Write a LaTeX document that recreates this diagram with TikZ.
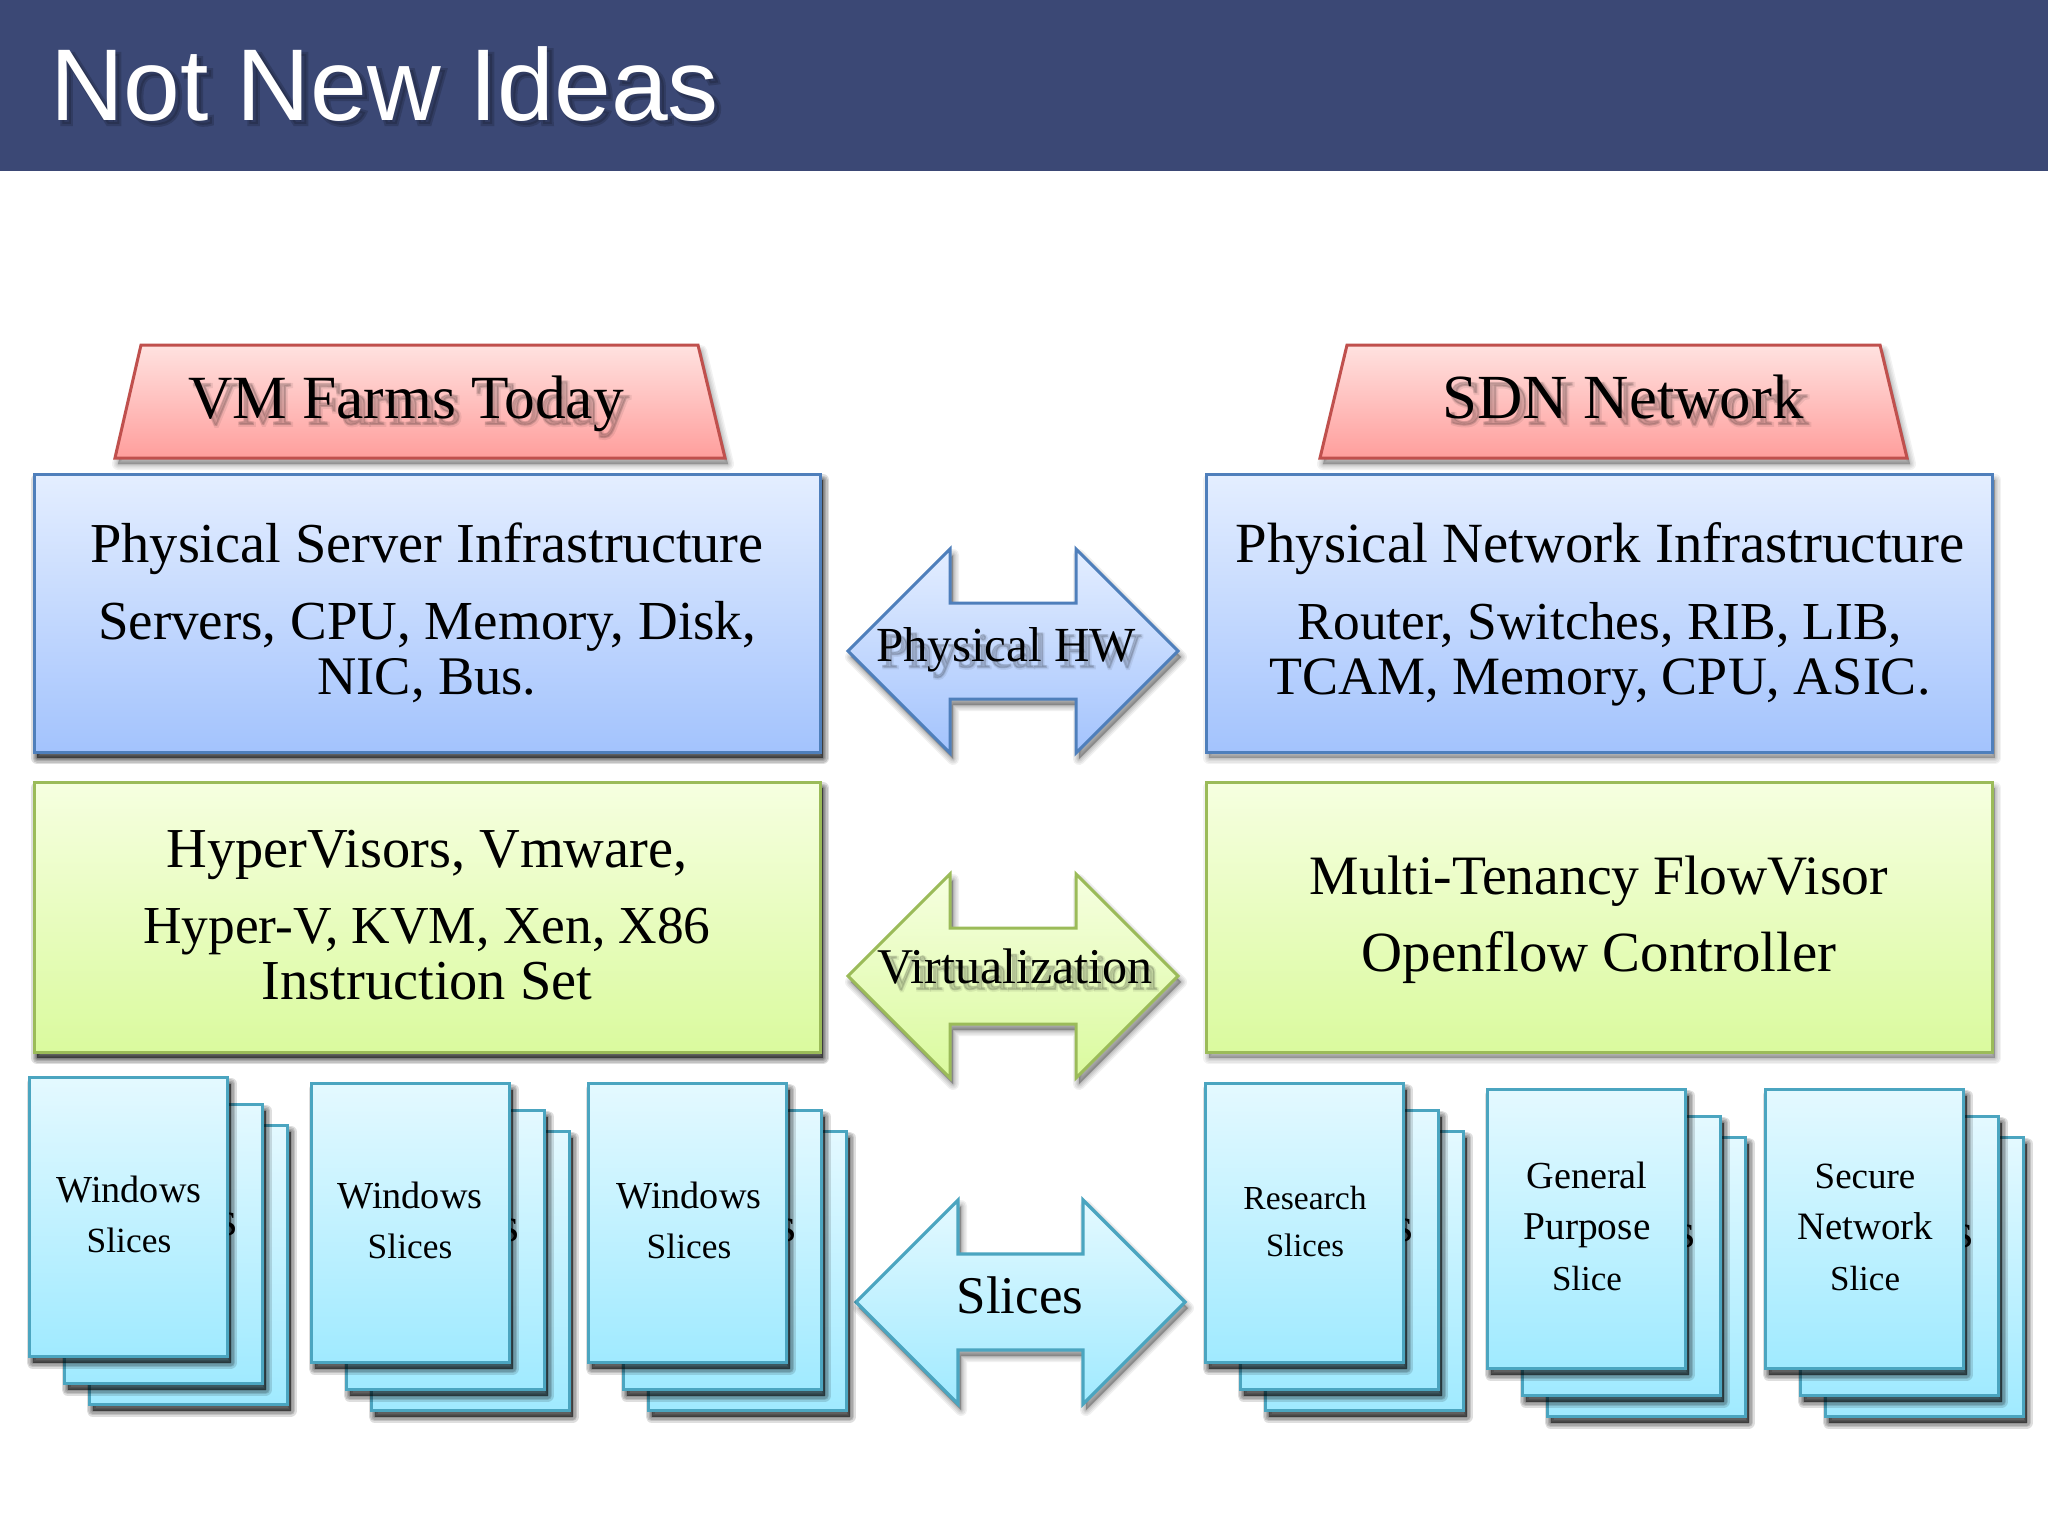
\documentclass[tikz,border=0pt]{standalone}
\usepackage{fontspec}
\setmainfont{Liberation Serif}
\newfontfamily\titlefont{Liberation Sans}
\newfontfamily\softwide[FakeBold=6]{Liberation Serif}
\newfontfamily\softnarrow[FakeBold=3]{Liberation Serif}
\newfontfamily\softtitle[FakeBold=4]{Liberation Sans}
\definecolor{headbar}{HTML}{3B4875}
\definecolor{blueline}{HTML}{4F7FBB}
\definecolor{bluetop}{HTML}{E4EEFF}
\definecolor{bluebot}{HTML}{A3C3FD}
\definecolor{redline}{HTML}{C0504D}
\definecolor{redtop}{HTML}{FFE2E0}
\definecolor{redbot}{HTML}{FF9E9C}
\definecolor{greenline}{HTML}{9BBB59}
\definecolor{greentop}{HTML}{F6FFE0}
\definecolor{greenbot}{HTML}{DAFA9E}
\definecolor{cyanline}{HTML}{4BA5C0}
\definecolor{cyantop}{HTML}{E4F9FF}
\definecolor{cyanbot}{HTML}{A0EAFF}
\tikzset{
  x=0.5pt,y=-0.5pt,
  panelblue/.style={draw=blueline,line width=1.5pt,top color=bluetop,bottom color=bluebot,miter limit=20},
  panelred/.style={draw=redline,line width=1.5pt,top color=redtop,bottom color=redbot,miter limit=20},
  panelgreen/.style={draw=greenline,line width=1.5pt,top color=greentop,bottom color=greenbot,miter limit=20},
  panelcyan/.style={draw=cyanline,line width=1.6pt,top color=cyantop,bottom color=cyanbot,miter limit=20},
  lbl/.style={anchor=base,inner sep=0pt,outer sep=0pt,align=center},
}
% soft shadow behind a path: [opacity of one layer] path
\newcommand\softshade[2][0.12]{%
  \foreach \wd in {6,4.5,3,1.8,0.8}{%
    \fill[black,opacity=#1,draw=black,line width=\wd pt,line join=round,shift={(3,6)}] #2;%
  }%
}
\newcommand\slide[4]{%
  \softshade[0.13]{(#1,#2) rectangle (#3,#4)}%
  \path[panelcyan] (#1,#2) rectangle (#3,#4);%
}
\newcommand\stack[4]{% left, top, S-x, S-y
  \pgfmathsetmacro\la{#1}\pgfmathsetmacro\ta{#2}%
  \slide{\la+60.5}{\ta+48.5}{\la+258.5}{\ta+327.5}%
  \slide{\la+35.5}{\ta+27.5}{\la+233.5}{\ta+306.5}%
  \node[lbl,font=\fontsize{24}{24}\selectfont,anchor=base east] at (#3,#4) {s};%
  \slide{\la+0.5}{\ta+0.5}{\la+198.5}{\ta+279.5}%
}
\newcommand\twoway[4]{% left tip, right tip, mid y, style
  \softshade[0.06]{(#1,#3) -- (#1+102,#3-102) -- (#1+102,#3-48) -- (#2-102,#3-48) -- (#2-102,#3-102) -- (#2,#3) -- (#2-102,#3+102) -- (#2-102,#3+48) -- (#1+102,#3+48) -- (#1+102,#3+102) -- cycle}%
  \path[#4] (#1,#3) -- (#1+102,#3-102) -- (#1+102,#3-48) -- (#2-102,#3-48) -- (#2-102,#3-102) -- (#2,#3) -- (#2-102,#3+102) -- (#2-102,#3+48) -- (#1+102,#3+48) -- (#1+102,#3+102) -- cycle;%
}
% text with soft shadow: name,x,y,size,text
\newcommand\shadowtext[5]{%
  \node[lbl,font=\softwide\fontsize{#4}{#4}\selectfont,text=black,text opacity=0.07] at (#2+6,#3+7) {#5};%
  \node[lbl,font=\softnarrow\fontsize{#4}{#4}\selectfont,text=black,text opacity=0.10] at (#2+5,#3+6) {#5};%
  \node[lbl,font=\fontsize{#4}{#4}\selectfont] (#1) at (#2,#3) {#5};%
}
\newcommand\bodytext[5]{%
  \node[lbl,font=\fontsize{#4}{#4}\selectfont] (#1) at (#2,#3) {#5};%
}
\begin{document}
\begin{tikzpicture}
\useasboundingbox (0,0) rectangle (2048,1536);
\fill[white] (0,0) rectangle (2048,1536);
\fill[headbar] (0,0) rectangle (2048,171);
% title
\node[lbl,anchor=base west,font=\softtitle\fontsize{51}{51}\selectfont,text=black,text opacity=0.16] at (54,124) {Not New Ideas};
\node[lbl,anchor=base west,font=\titlefont\fontsize{51}{51}\selectfont,text=white] (title) at (50,120) {Not New Ideas};

% trapezoids
\softshade[0.05]{(141,345) -- (698,345) -- (725,458) -- (115,458) -- cycle}
\path[panelred] (141,345) -- (698,345) -- (725,458) -- (115,458) -- cycle;
\softshade[0.05]{(1347,345) -- (1880,345) -- (1907,458) -- (1320,458) -- cycle}
\path[panelred] (1347,345) -- (1880,345) -- (1907,458) -- (1320,458) -- cycle;
\shadowtext{vmfarms}{406}{418}{30.7}{VM Farms Today}
\shadowtext{sdnnet}{1623}{418}{31.4}{SDN Network}

% blue panels
\softshade[0.13]{(34,474) rectangle (820,752)}
\path[panelblue] (34,474) rectangle (820,752);
\softshade[0.05]{(1206,474) rectangle (1992,752)}
\path[panelblue] (1206,474) rectangle (1992,752);
\bodytext{psi}{427}{562}{28.2}{Physical Server Infrastructure}
\bodytext{psa}{427}{639}{27.5}{Servers, CPU, Memory, Disk,}
\bodytext{psb}{427}{694}{27.2}{NIC, Bus.}
\bodytext{pni}{1600}{562}{28.4}{Physical Network Infrastructure}
\bodytext{pna}{1600}{639}{26.7}{Router, Switches, RIB, LIB,}
\bodytext{pnb}{1600}{694}{27}{TCAM, Memory, CPU, ASIC.}

% green panels
\softshade[0.13]{(34,782) rectangle (820,1052)}
\path[panelgreen] (34,782) rectangle (820,1052);
\softshade[0.05]{(1206,782) rectangle (1992,1052)}
\path[panelgreen] (1206,782) rectangle (1992,1052);
\bodytext{hva}{427}{867}{28.2}{HyperVisors, Vmware,}
\bodytext{hvb}{427}{943}{26.7}{Hyper-V, KVM, Xen, X86}
\bodytext{hvc}{427}{999}{28.2}{Instruction Set}
\bodytext{mta}{1599}{894}{27.8}{Multi-Tenancy FlowVisor}
\bodytext{mtb}{1599}{971}{28.4}{Openflow Controller}

% double arrows
\twoway{848}{1178}{651}{panelblue}
\shadowtext{physhw}{1006}{661}{24.5}{Physical HW}
\twoway{848}{1178}{976}{panelgreen}
\shadowtext{virt}{1015}{983}{25}{Virtualization}
\twoway{856}{1185}{1302}{panelcyan}
\bodytext{slarrow}{1020}{1313}{26.5}{Slices}

% slide stacks
\stack{29}{1077}{237}{1235}
\stack{311}{1083}{519}{1241}
\stack{588}{1083}{796}{1241}
\stack{1205}{1083}{1413}{1241}
\stack{1487}{1089}{1695}{1247}
\stack{1765}{1089}{1973}{1247}

\bodytext{wa}{129}{1202}{19.1}{Windows}
\bodytext{wb}{129}{1252}{17.7}{Slices}
\bodytext{wc}{410}{1208}{19.1}{Windows}
\bodytext{wd}{410}{1258}{17.7}{Slices}
\bodytext{we}{689}{1208}{19.1}{Windows}
\bodytext{wf}{689}{1258}{17.7}{Slices}
\bodytext{ra}{1305}{1209}{16.8}{Research}
\bodytext{rb}{1305}{1256}{16.3}{Slices}
\bodytext{ga}{1587}{1188}{19.1}{General}
\bodytext{gb}{1587}{1239}{19.7}{Purpose}
\bodytext{gc}{1587}{1290}{17.5}{Slice}
\bodytext{sa}{1865}{1188}{18.5}{Secure}
\bodytext{sb}{1865}{1239}{19.4}{Network}
\bodytext{sc}{1865}{1290}{17.5}{Slice}
\end{tikzpicture}
\end{document}
